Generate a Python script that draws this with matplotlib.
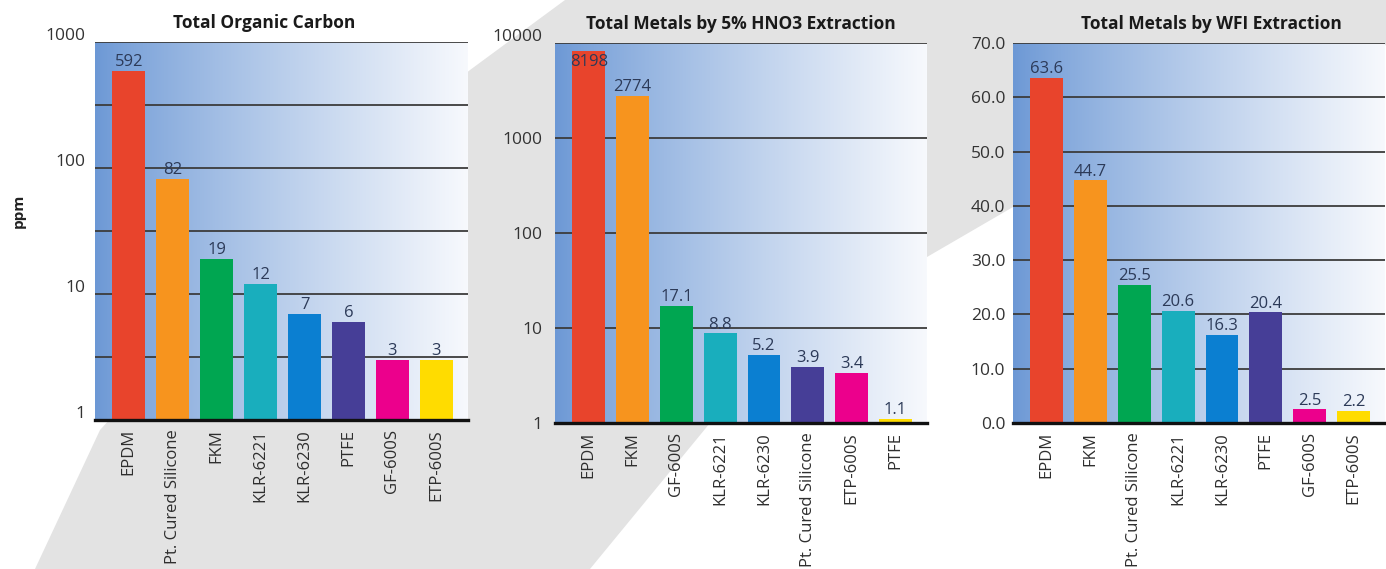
import numpy as np
import matplotlib
matplotlib.use("Agg")
import matplotlib.pyplot as plt
from matplotlib.patches import Polygon
from matplotlib.transforms import ScaledTranslation

plt.rcParams['font.family'] = ['Open Sans', 'DejaVu Sans']

# data
toc_labels = ["EPDM", "Pt. Cured Silicone", "FKM", "KLR-6221", "KLR-6230", "PTFE", "GF-600S", "ETP-600S"]
toc_values = [592, 82, 19, 12, 7, 6, 3, 3]

hno3_labels = ["EPDM", "FKM", "GF-600S", "KLR-6221", "KLR-6230", "Pt. Cured Silicone", "ETP-600S", "PTFE"]
hno3_values = [8198, 2774, 17.1, 8.8, 5.2, 3.9, 3.4, 1.1]
hno3_text = ["8198", "2774", "17.1", "8.8", "5.2", "3.9", "3.4", "1.1"]

wfi_labels = ["EPDM", "FKM", "Pt. Cured Silicone", "KLR-6221", "KLR-6230", "PTFE", "GF-600S", "ETP-600S"]
wfi_values = [63.6, 44.7, 25.5, 20.6, 16.3, 20.4, 2.5, 2.2]
wfi_text = ["63.6", "44.7", "25.5", "20.6", "16.3", "20.4", "2.5", "2.2"]

bar_colors = ["#e8442c", "#f7941e", "#00a651", "#19aebd", "#0b7fd1", "#463e97", "#ec008c", "#ffdc00"]

W, H = 1386, 569
fig = plt.figure(figsize=(W / 100, H / 100), dpi=100)
fig.patch.set_facecolor("white")

# grey swoosh behind the charts
swoosh_px = [(35, 569), (100, 430), (300, 210), (470, 70), (565, 0), (1386, 0), (1386, 45),
             (1013, 207), (927, 257), (710, 423), (590, 569)]
swoosh = Polygon([(x / W, 1 - y / H) for x, y in swoosh_px], closed=True,
                 transform=fig.transFigure, facecolor="#e3e3e3", edgecolor="none", zorder=-1)
fig.patches.append(swoosh)

# gradient used as plot background
t = np.linspace(0, 1, 256) ** 0.85
c0 = np.array([108, 152, 213]) / 255
c1 = np.array([247, 249, 253]) / 255
grad = (c0[None, :] * (1 - t[:, None]) + c1[None, :] * t[:, None])[None, :, :]


def make_panel(rect_px, labels, values, texts, title, title_x, scale, ylim, yticks, yticklabels,
               ypad, label_shift=0, top_shift=0):
    x0, x1, ytop, ybot = rect_px
    rect = [x0 / W, 1 - ybot / H, (x1 - x0) / W, (ybot - ytop) / H]

    bg = fig.add_axes(rect, zorder=0)
    bg.imshow(grad, aspect="auto", extent=[0, 1, 0, 1])
    bg.axis("off")

    ax = fig.add_axes(rect, zorder=1)
    ax.patch.set_alpha(0)
    x = np.arange(len(values))
    if scale == "log":
        ax.set_yscale("log")
    ax.bar(x, values, width=0.75, color=bar_colors, zorder=2)
    ax.set_xlim(-0.77, len(values) - 0.28)
    ax.set_ylim(*ylim)
    ax.set_yticks(yticks)
    ax.set_yticklabels(yticklabels)
    ax.minorticks_off()
    ax.yaxis.grid(True, color="#3c3c3c", linewidth=1.3, zorder=1)
    ax.set_axisbelow(True)

    ax.set_xticks(x)
    ax.set_xticklabels(labels, rotation=90, fontsize=12, color="#2e2e2e")
    ax.tick_params(axis="x", length=0, pad=6.5)
    ax.tick_params(axis="y", length=0, pad=ypad, labelsize=12.5, labelcolor="#333333")
    ylabs = ax.get_yticklabels()
    for k, lab in enumerate(ylabs):
        shift = label_shift + (top_shift if k == len(ylabs) - 1 else 0)
        if shift:
            off = ScaledTranslation(0, shift / 72, fig.dpi_scale_trans)
            lab.set_transform(lab.get_transform() + off)

    for s in ["top", "right", "left"]:
        ax.spines[s].set_visible(False)
    ax.spines["bottom"].set_linewidth(2.4)
    ax.spines["bottom"].set_color("#111111")

    ax.set_title(title, x=title_x, fontsize=12.5, fontweight="bold", color="#1a1a1a", pad=10)

    for i, (v, s) in enumerate(zip(values, texts)):
        ydisp = ax.transData.transform((i, v))[1]
        if ydisp + 20 > ax.bbox.y1:
            ax.annotate(s, (i, v), xytext=(0, -2), textcoords="offset points",
                        ha="center", va="top", fontsize=12, color="#2c3a58", zorder=3)
        else:
            ax.annotate(s, (i, v), xytext=(0, 0.5), textcoords="offset points",
                        ha="center", va="bottom", fontsize=12, color="#2c3a58", zorder=3)
    return ax


half = 10 ** 0.5
ax1 = make_panel((95, 468, 42, 420), toc_labels, toc_values, [str(v) for v in toc_values],
                 "Total Organic Carbon", 0.453, "log", (1, 1000),
                 [1, half, 10, 10 * half, 100, 100 * half, 1000],
                 ["1", "", "10", "", "100", "", "1000"], ypad=7, label_shift=5.5)

fig.text(19 / W, 1 - 211 / H, "ppm", rotation=90, ha="center", va="center",
         fontsize=11, fontweight="bold", color="#222222")

ax2 = make_panel((555, 927, 43, 423), hno3_labels, hno3_values, hno3_text,
                 "Total Metals by 5% HNO3 Extraction", 0.5, "log", (1, 10000),
                 [1, 10, 100, 1000, 10000], ["1", "10", "100", "1000", "10000"], ypad=9,
                 top_shift=5.5)

ax3 = make_panel((1013, 1385, 43, 423), wfi_labels, wfi_values, wfi_text,
                 "Total Metals by WFI Extraction", 0.534, "linear", (0, 70),
                 np.arange(0, 71, 10), ["%.1f" % v for v in np.arange(0, 71, 10)], ypad=5.5)

fig.savefig("out.png", dpi=100)
